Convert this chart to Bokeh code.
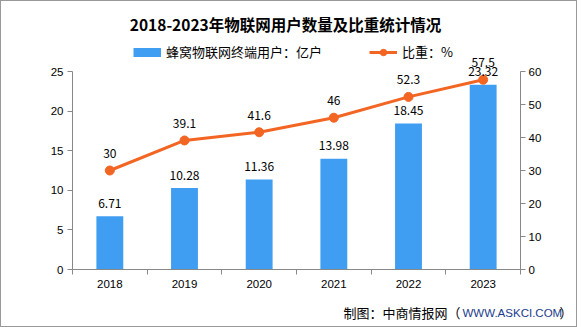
from bokeh.plotting import figure
from bokeh.layouts import column
from bokeh.models import (Range1d, LinearAxis, FixedTicker, Legend, LegendItem,
                          ColumnDataSource, Label)
from bokeh.embed import file_html
from bokeh.resources import INLINE
from bokeh.core.properties import value

years = ["2018", "2019", "2020", "2021", "2022", "2023"]
users = [6.71, 10.28, 11.36, 13.98, 18.45, 23.32]
share = [30, 39.1, 41.6, 46, 52.3, 57.5]
user_labels = ["6.71", "10.28", "11.36", "13.98", "18.45", "23.32"]
share_labels = ["30", "39.1", "41.6", "46", "52.3", "57.5"]
left_max, left_ticks = 25, [0, 5, 10, 15, 20, 25]
right_max, right_ticks = 60, [0, 10, 20, 30, 40, 50, 60]

TITLE = "2018-2023年物联网用户数量及比重统计情况"
BAR_NAME = "蜂窝物联网终端用户：亿户"
LINE_NAME = "比重：%"
SRC_A, SRC_B, SRC_C = "制图：中商情报网（", "WWW.ASKCI.COM", "）"

W = 575                       # content width inside the 1px border
H_MAIN, H_FOOT = 293, 32
O = 1                          # offset of content from the window edge
FRAME_L, FRAME_R = 72 - O, 520 - O          # main frame left/right (canvas px)
AXIS_TOP_Y, AXIS_BOT_Y = 71, 269            # window y of top tick and baseline
MAIN_TOP = O                                 # window y of main figure top

BLUE = "#409EF2"
ORANGE = "#F26522"
AXIS = "#888888"
CJK = "Noto Sans CJK SC"
LAT = "Liberation Sans"


def bare(fig):
    fig.outline_line_color = None
    fig.xgrid.visible = False
    fig.ygrid.visible = False
    fig.background_fill_color = "white"
    fig.border_fill_color = "white"


def sx(px):   # window x -> frame-relative screen x
    return px - O - FRAME_L


def sy(py):   # window y -> frame-relative screen y (from frame bottom)
    return AXIS_BOT_Y - py


xs = [i + 0.5 for i in range(len(years))]
src = ColumnDataSource(dict(x=xs, year=years, users=users, share=share,
                            ul=user_labels, sl=share_labels))

# ---------------- main chart ----------------
# frame reaches to the figure top, so title / legend / top labels are inside it
scale = (AXIS_BOT_Y - MAIN_TOP) / (AXIS_BOT_Y - AXIS_TOP_Y)
p = figure(width=W, height=H_MAIN, output_backend="svg", toolbar_location=None, title=None,
           x_range=Range1d(0, len(years)), y_range=Range1d(0, left_max * scale),
           min_border_left=FRAME_L, min_border_right=W - FRAME_R, min_border_top=0,
           min_border_bottom=H_MAIN - (AXIS_BOT_Y - MAIN_TOP),
           x_axis_location=None, y_axis_location=None, frame_align=False)
p.extra_y_ranges = {"right": Range1d(0, right_max * scale),
                    "offscreen": Range1d(-200, -100)}
bare(p)


def style_axis(ax):
    ax.axis_line_color = AXIS
    ax.major_tick_line_color = AXIS
    ax.minor_tick_line_color = AXIS
    ax.major_tick_out = 5
    ax.major_tick_in = 0
    ax.minor_tick_out = 5
    ax.minor_tick_in = 0
    ax.major_label_text_font = LAT
    ax.major_label_text_font_size = "11.5px"
    ax.major_label_text_color = "#000000"


xax = LinearAxis(ticker=FixedTicker(ticks=xs, minor_ticks=list(range(len(years) + 1))),
                 major_label_overrides={x: y for x, y in zip(xs, years)})
style_axis(xax)
xax.major_tick_line_color = None
xax.major_label_standoff = 5
p.add_layout(xax, "below")

lax = LinearAxis(ticker=FixedTicker(ticks=left_ticks, minor_ticks=[]), bounds=(0, left_max))
style_axis(lax)
lax.major_label_standoff = 4
p.add_layout(lax, "left")

rax = LinearAxis(y_range_name="right", ticker=FixedTicker(ticks=right_ticks, minor_ticks=[]),
                 bounds=(0, right_max))
style_axis(rax)
rax.major_label_standoff = 3
p.add_layout(rax, "right")

p.vbar(x="x", top="users", width=0.36, source=src, fill_color=BLUE, line_color=None)
p.line(x="x", y="share", source=src, y_range_name="right", line_color=ORANGE, line_width=3)
p.scatter(x="x", y="share", source=src, y_range_name="right", size=9,
          fill_color=ORANGE, line_color=ORANGE)

p.text(x="x", y="users", text="ul", source=src, y_offset=-13, text_align="center",
       text_baseline="middle", text_font=value(CJK), text_font_size="12px", text_color="#000000")
p.text(x="x", y="share", text="sl", source=src, y_range_name="right", y_offset=-17,
       text_align="center", text_baseline="middle", text_font=value(CJK),
       text_font_size="12px", text_color="#000000")

# renderers on an off-screen range; they only lend their styles to the legend swatches
leg_bar = p.line(x="x", y="users", source=src, y_range_name="offscreen", line_color=BLUE,
                 line_width=9, line_cap="butt")
leg_line = p.line(x="x", y="share", source=src, y_range_name="offscreen", line_color=ORANGE,
                  line_width=3)
leg_pt = p.scatter(x="x", y="share", source=src, y_range_name="offscreen", size=9,
                   fill_color=ORANGE, line_color=ORANGE)

legend = Legend(items=[LegendItem(label=BAR_NAME, renderers=[leg_bar]),
                       LegendItem(label=LINE_NAME, renderers=[leg_line, leg_pt])],
                orientation="horizontal", location=(sx(133), sy(53) - 8),
                glyph_width=28, glyph_height=16, label_height=14, label_standoff=5,
                spacing=47, padding=0, margin=0, border_line_color=None,
                background_fill_alpha=0, label_text_font=CJK, label_text_font_size="13px",
                label_text_color="#000000")
p.add_layout(legend)

p.add_layout(Label(x=sx(285), y=sy(23), x_units="screen", y_units="screen",
                   text=TITLE, text_align="center", text_baseline="middle", text_font=CJK,
                   text_font_size="15.5px", text_font_style="bold", text_color="#000000"))

# ---------------- source strip ----------------
foot = figure(width=W, height=H_FOOT, output_backend="svg", toolbar_location=None, title=None,
              x_range=Range1d(0, 1), y_range=Range1d(0, 1), min_border=0,
              min_border_left=0, min_border_right=0, min_border_top=0, min_border_bottom=0,
              x_axis_location=None, y_axis_location=None, frame_align=False)
bare(foot)
FOOT_Y = H_FOOT - (312 - (MAIN_TOP + H_MAIN))
for xx, txt, font, size, color in [(343, SRC_A, CJK, "13px", "#000000"),
                                   (462, SRC_B, LAT, "11.5px", "#1A3C8C"),
                                   (559, SRC_C, CJK, "13px", "#000000")]:
    foot.add_layout(Label(x=xx - O, y=FOOT_Y, x_units="screen", y_units="screen", text=txt,
                          text_align="left", text_baseline="middle", text_font=font,
                          text_font_size=size, text_color=color))

layout = column(p, foot, spacing=0, styles={"border": "1px solid #999999"})

open("out.html", "w").write(file_html(layout, INLINE))
